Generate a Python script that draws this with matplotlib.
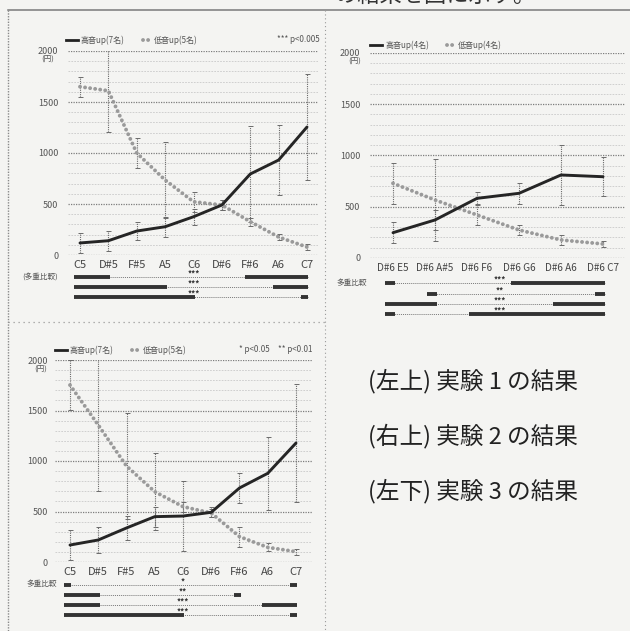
import matplotlib
matplotlib.use("Agg")
import matplotlib.pyplot as plt
from matplotlib.lines import Line2D
from matplotlib import transforms

plt.rcParams['font.family'] = ['Noto Sans CJK JP', 'DejaVu Sans']

# ---------------- data ----------------
# Experiment 1
exp1_cats = ["C5", "D#5", "F#5", "A5", "C6", "D#6", "F#6", "A6", "C7"]
exp1_high = [118, 140, 235, 277, 375, 490, 794, 931, 1255]
exp1_high_err = [100, 100, 90, 100, 80, 50, 470, 340, 520]
exp1_low = [1650, 1610, 1000, 735, 522, 490, 327, 176, 78]
exp1_low_err = [100, 400, 150, 370, 100, 50, 40, 30, 30]
exp1_legend = ["高音up(7名)", "低音up(5名)"]
exp1_sig = ["*** p<0.005"]
# multiple comparison rows: (thin line range, thick ranges, stars)
exp1_rows = [((0, 8), [(0, 1), (6, 8)], "***"),
             ((0, 8), [(0, 3), (7, 8)], "***"),
             ((0, 8), [(0, 4), (8, 8)], "***")]

# Experiment 2
exp2_cats = ["D#6 E5", "D#6 A#5", "D#6 F6", "D#6 G6", "D#6 A6", "D#6 C7"]
exp2_high = [247, 371, 582, 631, 810, 793]
exp2_high_err = [100, 100, 60, 100, 290, 190]
exp2_low = [729, 566, 420, 273, 176, 137]
exp2_low_err = [200, 400, 100, 50, 50, 30]
exp2_legend = ["高音up(4名)", "低音up(4名)"]
exp2_rows = [((0, 5), [(0, 0), (3, 5)], "***"),
             ((1, 5), [(1, 1), (5, 5)], "**"),
             ((0, 5), [(0, 1), (4, 5)], "***"),
             ((0, 5), [(0, 0), (2, 5)], "***")]

# Experiment 3
exp3_cats = ["C5", "D#5", "F#5", "A5", "C6", "D#6", "F#6", "A6", "C7"]
exp3_high = [168, 218, 337, 449, 455, 492, 733, 878, 1178]
exp3_high_err = [150, 130, 120, 100, 350, 50, 150, 360, 580]
exp3_low = [1752, 1356, 950, 696, 548, 485, 251, 145, 102]
exp3_low_err = [250, 650, 525, 380, 50, 40, 100, 40, 30]
exp3_legend = ["高音up(7名)", "低音up(5名)"]
exp3_sig = ["* p<0.05", "** p<0.01"]
exp3_rows = [((0, 8), [(0, 0), (8, 8)], "*"),
             ((0, 6), [(0, 1), (6, 6)], "**"),
             ((0, 8), [(0, 1), (7, 8)], "***"),
             ((0, 8), [(0, 4), (8, 8)], "***")]

captions = ["(左上) 実験 1 の結果", "(右上) 実験 2 の結果", "(左下) 実験 3 の結果"]
yticks = [0, 500, 1000, 1500, 2000]

# ---------------- layout helpers ----------------
W, H = 630, 631
BG = "#f4f4f2"
fig = plt.figure(figsize=(W / 100, H / 100), dpi=100, facecolor=BG)


def fx(px):
    return px / W


def fy(py):
    return 1 - py / H


def fig_line(x0, y0, x1, y1, **kw):
    fig.add_artist(Line2D([fx(x0), fx(x1)], [fy(y0), fy(y1)],
                          transform=fig.transFigure, **kw))


BEAD = dict(color="#9a9a9a", lw=2.8, ls=(0, (0.01, 1.3)),
            dash_capstyle="round", solid_capstyle="round")
HIGH = dict(color="#252525", lw=2.1, solid_capstyle="round")


def draw_chart(box, first_px, last_px, cats, high, high_err, low, low_err,
               label_pad, xfont):
    left, top, right, bottom = box
    n = len(cats) - 1
    unit = (last_px - first_px) / n
    ax = fig.add_axes([fx(left), fy(bottom), (right - left) / W, (bottom - top) / H])
    ax.set_facecolor("none")
    ax.set_xlim(-(first_px - left) / unit, n + (right - last_px) / unit)
    ax.set_ylim(0, 2000)
    for s in ax.spines.values():
        s.set_visible(False)
    # grid: faint lines every 100, stronger every 500
    for v in range(100, 2000, 100):
        if v % 500:
            ax.axhline(v, color="#c9c9c9", lw=0.6, ls=(0, (2, 1.5)), zorder=0)
    for v in yticks:
        ax.axhline(v, color="#7d7d7d", lw=0.9, ls=(0, (1, 1)), zorder=0)
    xs = list(range(len(cats)))
    for vals, errs in ((high, high_err), (low, low_err)):
        eb = ax.errorbar(xs, vals, yerr=errs, fmt="none", ecolor="#6a6a6a",
                         elinewidth=0.8, capsize=1.8, capthick=0.7, zorder=1)
        for lc in eb[2]:
            lc.set_linestyle((0, (1, 1)))
    ax.plot(xs, low, zorder=3, **BEAD)
    ax.plot(xs, high, zorder=4, **HIGH)
    ax.set_yticks(yticks)
    ax.set_yticklabels([str(v) for v in yticks], fontsize=6.5, color="#555555")
    ax.set_xticks(xs)
    ax.set_xticklabels(cats, fontsize=xfont, color="#444444")
    ax.tick_params(axis="y", length=0, pad=label_pad)
    ax.tick_params(axis="x", length=0, pad=3.5)
    return ax


def draw_rows(ax, rows, row_ys, star_x):
    tr = transforms.blended_transform_factory(ax.transData, fig.transFigure)
    for (thin, thick, stars), py in zip(rows, row_ys):
        y = fy(py)
        fig.add_artist(Line2D([thin[0] - 0.2, thin[1] + 0.05], [y, y], transform=tr,
                              color="#7a7a7a", lw=0.7, ls=(0, (1, 1))))
        for a, b in thick:
            fig.add_artist(Line2D([a - 0.2, b + 0.05], [y, y], transform=tr,
                                  color="#333333", lw=2.8, solid_capstyle="butt"))
        fig.text(star_x, y + 2.8 / H, stars, transform=tr, fontsize=5.8,
                 fontweight="bold", color="#333333", ha="center", va="center")


def draw_legend(y, x0, labels):
    fig_line(x0, y, x0 + 12, y, color="#222222", lw=2)
    fig.text(fx(x0 + 15), fy(y), labels[0], fontsize=5.8, color="#555555",
             va="center", ha="left")
    x1 = x0 + 77
    fig.add_artist(Line2D([fx(x1), fx(x1 + 7)], [fy(y), fy(y)],
                          transform=fig.transFigure, **BEAD))
    fig.text(fx(x1 + 11), fy(y), labels[1], fontsize=5.8, color="#555555",
             va="center", ha="left")


# ---------------- page frame ----------------
fig_line(8, 10, 630, 10, color="#7a7a7a", lw=1.1)
fig_line(8, 10, 8, 631, color="#8a8a8a", lw=1.0, ls=(0, (1, 1)))
fig_line(325, 10, 325, 631, color="#9a9a9a", lw=0.8, ls=(0, (1, 2.5)))
fig_line(8, 322, 325, 322, color="#9a9a9a", lw=0.9, ls=(0, (1, 3)))
fig.text(fx(335), fy(-5), "の結果を図に示す。", fontsize=16, color="#333333",
         va="center", ha="left")

# ---------------- experiment 1 ----------------
ax1 = draw_chart((68, 51, 318, 255), 80, 307, exp1_cats, exp1_high, exp1_high_err,
                 exp1_low, exp1_low_err, 7, 8)
fig.text(fx(48), fy(60), "(円)", fontsize=5.5, color="#555555", ha="center", va="center")
draw_legend(40, 66, exp1_legend)
fig.text(fx(320), fy(40), exp1_sig[0], fontsize=5.8, color="#555555",
         ha="right", va="center")
fig.text(fx(40), fy(277), "(多重比較)", fontsize=5.5, color="#555555",
         ha="center", va="center")
draw_rows(ax1, exp1_rows, [277, 287, 297], 4)

# ---------------- experiment 2 ----------------
ax2 = draw_chart((370, 53, 625, 258), 393, 603, exp2_cats, exp2_high, exp2_high_err,
                 exp2_low, exp2_low_err, 7, 7.2)
fig.text(fx(355), fy(62), "(円)", fontsize=5.5, color="#555555", ha="center", va="center")
draw_legend(45, 370, exp2_legend)
fig.text(fx(352), fy(283), "多重比較", fontsize=5.5, color="#555555",
         ha="center", va="center")
draw_rows(ax2, exp2_rows, [283, 294, 304, 314], 2.55)

# ---------------- experiment 3 ----------------
ax3 = draw_chart((55, 360, 312, 562), 70, 296, exp3_cats, exp3_high, exp3_high_err,
                 exp3_low, exp3_low_err, 5, 8)
fig.text(fx(41), fy(370), "(円)", fontsize=5.5, color="#555555", ha="center", va="center")
draw_legend(350, 55, exp3_legend)
fig.text(fx(270), fy(350), exp3_sig[0], fontsize=5.8, color="#555555",
         ha="right", va="center")
fig.text(fx(312), fy(350), exp3_sig[1], fontsize=5.8, color="#555555",
         ha="right", va="center")
fig.text(fx(42), fy(584), "多重比較", fontsize=5.5, color="#555555",
         ha="center", va="center")
draw_rows(ax3, exp3_rows, [585, 595, 605, 615], 4)

# ---------------- captions ----------------
for txt, py in zip(captions, [381, 436, 491]):
    fig.text(fx(368), fy(py), txt, fontsize=17, color="#222222",
             ha="left", va="center")

fig.savefig("out.png", dpi=100, facecolor=BG)
